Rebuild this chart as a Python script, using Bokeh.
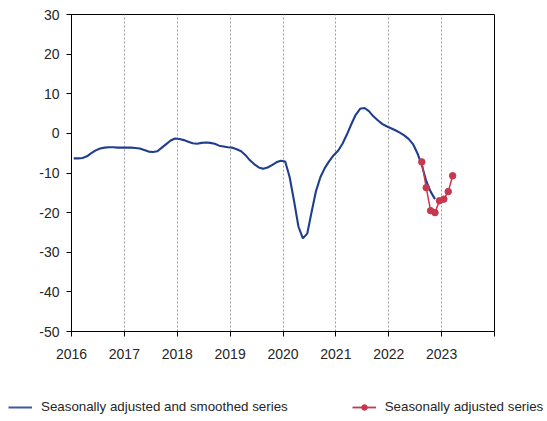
from bokeh.plotting import figure
from bokeh.layouts import column
from bokeh.models import Range1d, FixedTicker, Legend, LegendItem
from bokeh.embed import file_html
from bokeh.resources import INLINE

# Smoothed series: monthly, Jan 2016 .. Nov 2022 (values per year)
smooth_2016 = [-6.3, -6.3, -6.2, -5.8, -5.0, -4.3, -3.8, -3.6, -3.5, -3.5, -3.6, -3.6]
smooth_2017 = [-3.6, -3.6, -3.7, -3.8, -4.2, -4.6, -4.7, -4.5, -3.6, -2.7, -1.8, -1.3]
smooth_2018 = [-1.4, -1.7, -2.1, -2.5, -2.6, -2.4, -2.3, -2.4, -2.6, -3.1, -3.3, -3.5]
smooth_2019 = [-3.6, -4.0, -4.5, -5.5, -6.8, -7.8, -8.6, -8.9, -8.6, -8.0, -7.3, -6.9]
smooth_2020 = [-7.1, -11.0, -17.0, -23.5, -26.5, -25.3, -19.8, -14.5, -11.0, -8.7, -7.0, -5.5]
smooth_2021 = [-4.4, -2.6, -0.3, 2.3, 4.7, 6.2, 6.4, 5.6, 4.3, 3.3, 2.4, 1.8]
smooth_2022 = [1.3, 0.8, 0.2, -0.5, -1.4, -2.7, -5.0, -8.0, -12.0, -14.7, -16.6]

# Seasonally adjusted series: Aug 2022 .. Mar 2023
sa_months = [(2022, 8), (2022, 9), (2022, 10), (2022, 11), (2022, 12),
             (2023, 1), (2023, 2), (2023, 3)]
sa_values = [-7.2, -13.7, -19.5, -20.0, -17.0, -16.6, -14.7, -10.7]

year_ticks = [2016, 2017, 2018, 2019, 2020, 2021, 2022, 2023, 2024]
year_labels = ["2016", "2017", "2018", "2019", "2020", "2021", "2022", "2023", ""]
y_ticks = [-50, -40, -30, -20, -10, 0, 10, 20, 30]
y_labels = ["-50", "-40", "-30", "-20", "-10", "0", "10", "20", "30"]
series_names = ["Seasonally adjusted and smoothed series", "Seasonally adjusted series"]

smooth_values = smooth_2016 + smooth_2017 + smooth_2018 + smooth_2019 + smooth_2020 + smooth_2021 + smooth_2022
smooth_x = [2016 + (i + 0.5) / 12 for i in range(len(smooth_values))]
sa_x = [y + (m - 0.5) / 12 for (y, m) in sa_months]

BLUE = "#1F3F8E"
RED = "#C8374F"
TXT = "#262626"
NAN = float("nan")

p = figure(width=547, height=370, output_backend="svg", toolbar_location=None,
           x_range=Range1d(2016, 2024), y_range=Range1d(-50, 30),
           min_border_left=71, min_border_right=53, min_border_top=14, min_border_bottom=39)
p.frame_align = False

p.background_fill_color = "white"
p.border_fill_color = "white"
p.outline_line_color = "black"
p.outline_line_width = 1

p.line(smooth_x, smooth_values, line_color=BLUE, line_width=2.1)
p.line(sa_x, sa_values, line_color=RED, line_width=1.5)
p.scatter(sa_x, sa_values, size=6.5, fill_color=RED, line_color=RED)

p.xaxis.ticker = FixedTicker(ticks=year_ticks)
p.xaxis.major_label_overrides = {t: l for t, l in zip(year_ticks, year_labels)}
p.yaxis.ticker = FixedTicker(ticks=y_ticks)
p.yaxis.major_label_overrides = {t: l for t, l in zip(y_ticks, y_labels)}

for ax in (p.xaxis[0], p.yaxis[0]):
    ax.axis_line_color = "black"
    ax.axis_line_width = 1
    ax.major_tick_line_color = "black"
    ax.major_tick_in = 0
    ax.major_tick_out = 5
    ax.minor_tick_line_color = None
    ax.major_label_text_font = "Liberation Sans"
    ax.major_label_text_font_size = "14px"
    ax.major_label_text_color = TXT

p.xaxis.major_label_standoff = 12
p.yaxis.major_label_standoff = 7

p.ygrid.grid_line_color = None
p.xgrid.grid_line_color = "#9a9a9a"
p.xgrid.grid_line_dash = "2 2"
p.xgrid.grid_line_width = 1

# Legend strip below the chart (key renderers hold no visible data)
lg = figure(width=547, height=50, output_backend="svg", toolbar_location=None,
            x_range=Range1d(0, 1), y_range=Range1d(0, 1),
            x_axis_type=None, y_axis_type=None,
            min_border_left=0, min_border_right=0, min_border_top=0, min_border_bottom=0)
lg.frame_align = False
lg.outline_line_color = None
lg.xgrid.grid_line_color = None
lg.ygrid.grid_line_color = None
k1 = lg.line([NAN], [NAN], line_color="#3D5A9E", line_width=2)
k2 = lg.line([NAN], [NAN], line_color=RED, line_width=1.8)
k3 = lg.scatter([NAN], [NAN], size=6.5, fill_color=RED, line_color=RED)

legend = Legend(items=[
    LegendItem(label=series_names[0], renderers=[k1]),
    LegendItem(label=series_names[1], renderers=[k2, k3]),
], location=(8, 6), orientation="horizontal")
legend.border_line_color = None
legend.background_fill_alpha = 0
legend.padding = 0
legend.margin = 0
legend.spacing = 64
legend.glyph_width = 24
legend.glyph_height = 14
legend.label_height = 14
legend.label_standoff = 9
legend.label_text_font = "Liberation Sans"
legend.label_text_font_size = "10pt"
legend.label_text_color = TXT
lg.add_layout(legend, "center")

open("out.html", "w").write(file_html(column(p, lg), INLINE))
